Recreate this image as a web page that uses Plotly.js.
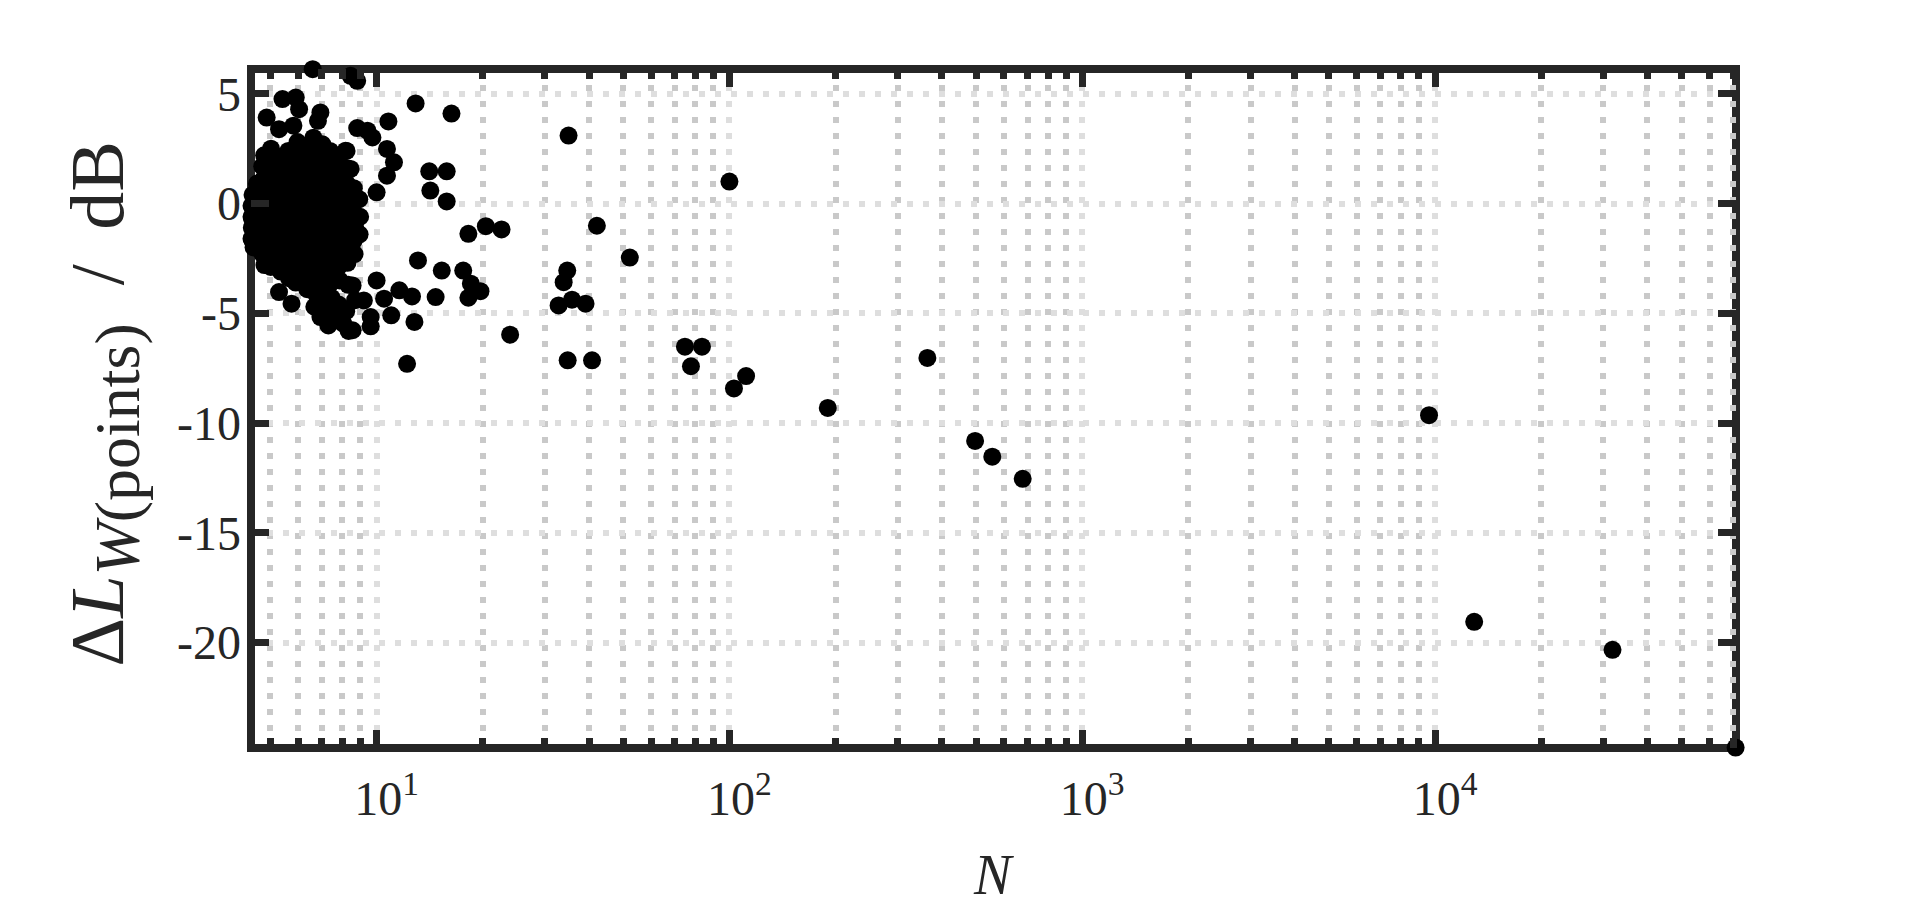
<!DOCTYPE html>
<html>
<head>
<meta charset="utf-8">
<script src="https://cdn.plot.ly/plotly-3.0.1.min.js"></script>
<style>
html,body{margin:0;padding:0;background:#ffffff;}
#chart{width:1920px;height:918px;}
</style>
</head>
<body>
<div id="chart"></div>
<script>
// ---- data: dense cluster of small N ----
const clusterN = [
  4.42,4.42,4.43,4.42,
  4.45,4.46,4.44,4.47,4.45,4.48,
  4.58,4.60,4.57,4.62,
  4.80,4.74,4.77,4.73,4.78,4.76,4.72,4.79,4.75,4.81,
  5.02,5.08,5.04,5.10,5.01,5.06,5.09,5.03,5.07,5.12,
  5.33,5.38,5.31,5.36,5.40,5.34,5.37,5.32,5.39,5.35,
  5.62,5.68,5.64,5.70,5.61,5.66,5.69,5.63,5.67,5.71,5.65,
  5.97,5.93,5.99,5.91,5.96,6.00,5.94,5.98,5.92,5.95,6.01,5.90,
  6.28,6.33,6.26,6.31,6.35,6.27,6.32,6.29,6.34,6.30,6.25,6.36,
  6.62,6.68,6.64,6.70,6.61,6.66,6.69,6.63,6.67,6.71,6.65,6.60,6.72,6.66,
  7.02,6.97,7.05,6.99,7.03,6.96,7.06,7.00,7.04,6.98,7.07,7.01,6.95,7.03,
  7.38,7.43,7.36,7.41,7.45,7.37,7.42,7.39,7.44,7.40,7.35,7.46,7.41,7.38,
  7.82,7.77,7.85,7.79,7.83,7.76,7.84,7.80,7.78,7.86,7.81,7.75,
  8.22,8.28,8.24,8.30,8.21,8.26,8.29,8.23,8.27,8.31,8.20,8.33,
  8.62,8.68,8.64,8.70,8.61,8.66,8.69,
  8.93,8.98,8.95
];
const clusterDB = [
  -0.1,-0.6,-1.1,-1.6,
  0.4,-0.2,-0.7,-1.2,-1.7,-2.0,
  0.9,0.0,-0.9,-1.5,
  2.2,1.7,1.1,0.5,-0.1,-0.6,-1.1,-1.7,-2.3,-2.8,
  2.5,2.0,1.4,0.8,0.2,-0.4,-1.0,-1.6,-2.2,-2.7,
  2.1,1.6,1.0,0.4,-0.2,-0.8,-1.4,-2.0,-2.6,-3.1,
  2.4,1.9,1.3,0.7,0.1,-0.5,-1.1,-1.7,-2.3,-2.9,-3.4,
  2.8,2.4,1.8,1.2,0.6,0.0,-0.6,-1.2,-1.8,-2.4,-3.0,-3.6,
  2.6,2.1,1.5,0.9,0.3,-0.3,-0.9,-1.5,-2.1,-2.7,-3.3,-3.9,
  3.0,2.5,1.9,1.3,0.7,0.1,-0.5,-1.1,-1.7,-2.3,-2.9,-3.5,-4.1,-4.7,
  2.7,2.2,1.6,1.0,0.4,-0.2,-0.8,-1.4,-2.0,-2.6,-3.2,-3.8,-4.4,-5.0,
  2.4,1.8,1.2,0.6,0.0,-0.6,-1.2,-1.8,-2.4,-3.0,-3.7,-4.3,-4.9,-5.4,
  1.9,1.3,0.7,0.1,-0.5,-1.1,-1.7,-2.3,-2.9,-3.5,-4.6,-5.3,
  2.4,1.6,0.9,0.3,-0.3,-0.9,-1.5,-2.1,-2.7,-3.7,-4.9,-5.8,
  0.7,0.1,-0.5,-1.1,-1.7,-2.3,-4.4,
  0.2,-0.6,-1.4
];

// ---- data: scattered points around the cluster ----
const spreadN = [
  6.59, 8.44, 8.81, 5.41, 5.90, 6.03, 4.88, 5.29, 5.81, 6.93, 6.82, 8.81, 9.42, 9.73,
  8.17, 8.44, 10.0, 10.7, 11.2, 10.7, 10.8, 12.9, 16.3, 14.1, 15.8, 14.2, 15.8,
  10.0, 8.55, 5.29, 5.74, 9.2, 9.62, 9.62, 8.55, 8.05, 7.3, 6.93, 7.0, 5.01, 5.83, 6.29,
  13.1, 15.3, 17.6, 34.7, 33.9, 18.5, 19.7, 18.2, 14.7, 12.6, 11.6, 10.5, 11.0, 12.8,
  32.8, 35.8, 39.1, 18.2, 20.4, 22.6
];
const spreadDB = [
  6.12, 5.82, 5.59, 4.76, 4.83, 4.30, 3.92, 3.39, 3.55, 4.15, 3.77, 3.44, 3.32, 3.01,
  2.41, 1.58, 0.51, 2.49, 1.88, 1.27, 3.74, 4.56, 4.10, 1.47, 1.47, 0.59, 0.10,
  -3.5, -3.73, -4.03, -4.56, -4.41, -5.17, -5.59, -5.77, -5.47, -5.55, -5.17, -4.71, -2.89, -3.5, -3.65,
  -2.59, -3.05, -3.05, -3.05, -3.58, -3.65, -3.99, -4.29, -4.26, -4.23, -3.95, -4.33, -5.09, -5.39,
  -4.64, -4.38, -4.56, -1.38, -1.03, -1.18
];

// ---- data: tail towards large N ----
const tailN = [100, 35, 42.1, 52.2, 23.9, 12.2, 34.8, 40.8, 74.8, 83.6, 77.8, 103, 111.5,
  190, 364, 497, 556, 678, 9616, 12910, 31840, 71100];
const tailDB = [1.0, 3.1, -1.01, -2.46, -5.97, -7.3, -7.14, -7.14, -6.52, -6.52, -7.41, -8.42, -7.86,
  -9.31, -7.03, -10.81, -11.53, -12.54, -9.64, -19.05, -20.33, -24.78];

// ---- ticks ----
const xMajorTicks = [10, 100, 1000, 10000];
const xMajorText = ['10<sup>1</sup>', '10<sup>2</sup>', '10<sup>3</sup>', '10<sup>4</sup>'];
const xMinorTicks = [5,6,7,8,9, 20,30,40,50,60,70,80,90, 200,300,400,500,600,700,800,900,
  2000,3000,4000,5000,6000,7000,8000,9000, 20000,30000,40000,50000,60000,70000];
const yTicks = [-20, -15, -10, -5, 0, 5];
const yTickText = ['-20', '-15', '-10', '-5', '0', '5'];

const ink = '#262626';
const serif = 'Liberation Serif, Times New Roman, serif';
const dotGrid = '6px,10px';

function pointsTrace(xs, ys) {
  return {
    type: 'scatter', mode: 'markers', x: xs, y: ys, cliponaxis: false,
    marker: {color: '#000000', size: 18, line: {width: 0}},
    hoverinfo: 'skip'
  };
}

const traces = [
  pointsTrace(clusterN, clusterDB),
  pointsTrace(spreadN, spreadDB),
  pointsTrace(tailN, tailDB)
];

const layout = {
  width: 1920, height: 918,
  margin: {l: 251, r: 184, t: 69, b: 170, pad: 0},
  paper_bgcolor: '#ffffff', plot_bgcolor: '#ffffff',
  showlegend: false,
  font: {family: serif, color: ink, size: 48},
  xaxis: {
    type: 'log', range: [0.644, 4.853],
    tickmode: 'array', tickvals: xMajorTicks, ticktext: xMajorText,
    ticks: 'inside', ticklen: 18, tickwidth: 7, tickcolor: ink,
    showline: false, mirror: 'allticks',
    showgrid: true, gridcolor: '#dedede', gridwidth: 6, griddash: dotGrid,
    zeroline: false,
    tickfont: {family: serif, size: 48, color: ink},
    ticklabelstandoff: 18,
    ticklabelshift: 10,
    minor: {
      tickmode: 'array', tickvals: xMinorTicks,
      ticks: 'inside', ticklen: 10, tickwidth: 7, tickcolor: ink,
      showgrid: true, gridcolor: '#c9c9c9', gridwidth: 6, griddash: dotGrid
    }
  },
  yaxis: {
    range: [-24.8, 6.13],
    tickmode: 'array', tickvals: yTicks, ticktext: yTickText,
    ticks: 'inside', ticklen: 18, tickwidth: 7, tickcolor: ink,
    showline: false, mirror: 'allticks',
    showgrid: true, gridcolor: '#dedede', gridwidth: 6, griddash: dotGrid,
    zeroline: false,
    tickfont: {family: serif, size: 48, color: ink},
    ticklabelstandoff: 9
  },
  shapes: [
    {type: 'rect', xref: 'paper', yref: 'paper', x0: 0, x1: 1, y0: 0, y1: 1,
     line: {color: ink, width: 8}, fillcolor: 'rgba(0,0,0,0)', layer: 'between'}
  ],
  annotations: [
    {
      text: '<i>N</i>', xref: 'paper', yref: 'paper', x: 0.5, y: -0.187,
      xanchor: 'center', yanchor: 'middle', showarrow: false,
      font: {family: serif, size: 56, color: ink}
    },
    {
      text: 'Δ<i>L</i><sub><span style="font-size:64px"><i>W</i>(points)</span></sub>\u00a0\u00a0/\u00a0\u2009dB',
      textangle: -90, xref: 'paper', yref: 'paper', x: -0.099, y: 0.507,
      xanchor: 'center', yanchor: 'middle', showarrow: false,
      font: {family: serif, size: 76, color: ink}
    }
  ]
};

Plotly.newPlot('chart', traces, layout, {staticPlot: true, displayModeBar: false});
</script>
</body>
</html>
